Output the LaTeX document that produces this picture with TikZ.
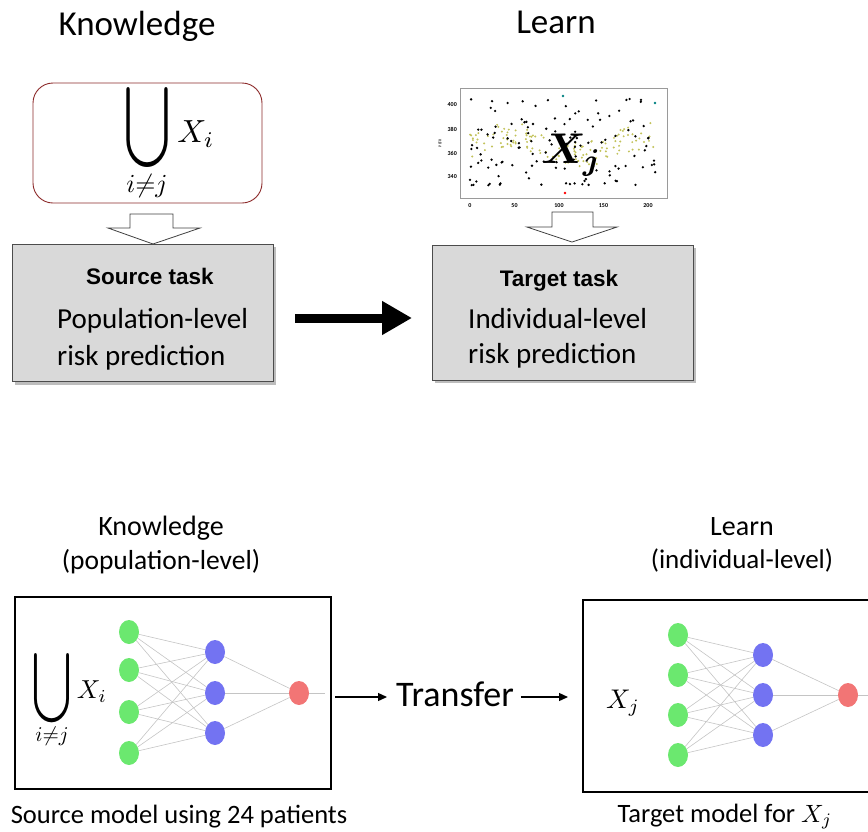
\documentclass[tikz,border=0pt]{standalone}
\usepackage{bm}
\usepackage{graphicx}
\usepackage{fontspec}
\setmainfont{Carlito}
\newfontfamily\arialb{Liberation Sans}
\usetikzlibrary{arrows.meta,shapes.geometric,backgrounds}
\definecolor{boxgray}{HTML}{D9D9D9}
\definecolor{shadowgray}{HTML}{BDBDBD}
\definecolor{darkred}{HTML}{8C2A2A}
\definecolor{nngreen}{HTML}{6BE86F}
\definecolor{nnblue}{HTML}{7373F2}
\definecolor{nnred}{HTML}{F27575}
\definecolor{edgegray}{HTML}{C4C4C4}
\definecolor{dotyel}{HTML}{C2C25A}
\definecolor{axgray}{HTML}{9A9A9A}
\begin{document}
\begin{tikzpicture}[x=1pt,y=-1pt,
  lbl/.style={inner sep=0pt,anchor=center},
  bl/.style={inner sep=0pt,anchor=base},
  bw/.style={inner sep=0pt,anchor=base west},
  taskbox/.style={draw=black!70,fill=boxgray,line width=0.8pt},
  hollow/.style={draw=black!75,fill=white,line width=0.8pt,line join=miter},
  gn/.style={ellipse,fill=nngreen,minimum width=20pt,minimum height=24pt,inner sep=0pt},
  bn/.style={ellipse,fill=nnblue,minimum width=20pt,minimum height=24pt,inner sep=0pt},
  rn/.style={ellipse,fill=nnred,minimum width=20pt,minimum height=24pt,inner sep=0pt},
  nnedge/.style={draw=edgegray,line width=0.6pt},
  tick/.style={inner sep=0pt,font=\fontsize{6}{6}\selectfont\bfseries}
]
\useasboundingbox (0,0) rectangle (868,831);
\clip (0,0) rectangle (868,831);

% ---------- top titles
\node[bl] (k1) at (137,35) {\fontsize{35}{40}\selectfont Knowledge};
\node[bl] (l1) at (556,33) {\fontsize{35}{40}\selectfont Learn};

% ---------- union box
\draw[draw=darkred,line width=0.9pt,rounded corners=20pt] (33,83) rectangle (262,203);
\node[lbl] (u1) at (148,127) {\resizebox{46pt}{60pt}{$\displaystyle\bigcup$}};
\node[lbl] (xi1) at (196,134) {\scalebox{3.2}{$X_i$}};
\node[lbl] (ij1) at (147,186) {\scalebox{2.6}{$i{\neq}j$}};

% hollow arrow 1
\draw[hollow] (130,214) -- (173,214) -- (173,228) -- (200,228) -- (153,244) -- (108,228) -- (130,228) -- cycle;

% source task box
\fill[shadowgray] (15,247) rectangle (276,385);
\draw[taskbox] (12,244) rectangle (273,381);
\node[bl] (st) at (150,284) {\arialb\bfseries\fontsize{22.5}{22.5}\selectfont Source task};
\node[bw] (pl) at (57,328) {\fontsize{29}{29}\selectfont Population-level};
\node[bw] (rp1) at (57,365) {\fontsize{29}{29}\selectfont risk prediction};

% big arrow
\coordinate (ba) at (295,318);
\coordinate (bb) at (412,318);
\draw[line width=9pt,-{Triangle[length=30pt,width=32pt]}] (ba) -- (bb);

% ---------- scatter plot
\draw[axgray,line width=0.6pt] (460,88) rectangle (667,198);
\pgfmathsetseed{11}
\foreach \k in {1,...,130} {
  \pgfmathsetmacro\dx{rnd*208}
  \pgfmathsetmacro\dy{367+8*sin(\dx*2.2)+(rnd-0.5)*22}
  \fill[dotyel] (470+\dx*0.89, 105+400*1.2-\dy*1.2) circle (1.1);
}
\foreach \k in {1,...,130} {
  \pgfmathsetmacro\dx{rnd*210}
  \pgfmathsetmacro\dy{333+rnd*72}
  \fill[black] (470+\dx*0.89, 105+400*1.2-\dy*1.2) circle (1.3);
}
\fill[teal] (563,96) circle (1.4);
\fill[teal] (655,103) circle (1.4);
\fill[red] (565,193) circle (1.4);
\foreach \v/\n in {400/a,380/b,360/c,340/d} {
  \node[tick,anchor=east] (yt\n) at (457,{105+(400-\v)*1.2}) {\v};
}
\foreach \v/\n in {0/a,50/b,100/c,150/d,200/e} {
  \node[tick] (xt\n) at ({470+\v*0.89},206) {\v};
}
\node[tick,rotate=90,font=\fontsize{4}{4}\selectfont] (pefr) at (440,143) {PEFR};
\node[lbl] (xj1) at (572,155) {\scalebox{4.3}{$\bm{X_j}$}};

% hollow arrow 2
\draw[hollow] (552,212) -- (593,212) -- (593,227) -- (617,227) -- (572,242) -- (527,227) -- (552,227) -- cycle;

% target task box
\fill[shadowgray] (435,248) rectangle (696,383);
\draw[taskbox] (432,245) rectangle (693,380);
\node[bl] (tt) at (559,286) {\arialb\bfseries\fontsize{22.5}{22.5}\selectfont Target task};
\node[bw] (il) at (468,328) {\fontsize{29}{29}\selectfont Individual-level};
\node[bw] (rp2) at (468,363) {\fontsize{29}{29}\selectfont risk prediction};

% ---------- bottom titles
\node[bl] (k2) at (161,535) {\fontsize{28}{30}\selectfont Knowledge};
\node[bl] (pop) at (161,569) {\fontsize{27.5}{30}\selectfont (population-level)};
\node[bl] (l2) at (742,535) {\fontsize{28}{30}\selectfont Learn};
\node[bl] (ind) at (742,568) {\fontsize{27}{30}\selectfont (individual-level)};

% left model box
\draw[black,line width=1.6pt] (15,597) rectangle (331,789);
\node[lbl] (u2) at (52,688) {\resizebox{39pt}{52pt}{$\displaystyle\bigcup$}};
\node[lbl] (xi2) at (92,692) {\scalebox{2.6}{$X_i$}};
\node[lbl] (ij2) at (52,736) {\scalebox{2.1}{$i{\neq}j$}};

\foreach \i/\y in {1/632,2/670,3/712,4/753} \node[gn] (ga\i) at (129,\y) {};
\foreach \i/\y in {1/652,2/693,3/733} \node[bn] (ba\i) at (215,\y) {};
\node[rn] (ra) at (299,693) {};
\coordinate (oa) at (325,693);

% right model box
\draw[black,line width=1.6pt] (583,600) rectangle (880,792);
\node[lbl] (xj2) at (623,703) {\scalebox{2.7}{$X_j$}};
\foreach \i/\y in {1/635,2/675,3/715,4/755} \node[gn] (gb\i) at (678,\y) {};
\foreach \i/\y in {1/655,2/695,3/735} \node[bn] (bb\i) at (763,\y) {};
\node[rn] (rb) at (848,695) {};
\coordinate (ob) at (875,695);

\begin{scope}[on background layer]
\foreach \i in {1,...,4} \foreach \j in {1,...,3} {
  \draw[nnedge] (ga\i) -- (ba\j);
  \draw[nnedge] (gb\i) -- (bb\j);
}
\foreach \j in {1,...,3} {
  \draw[nnedge] (ba\j) -- (ra);
  \draw[nnedge] (bb\j) -- (rb);
}
\draw[nnedge] (ra) -- (oa);
\draw[nnedge] (rb) -- (ob);
\end{scope}

% transfer
\node[lbl] (tr) at (455,694) {\fontsize{36}{36}\selectfont Transfer};
\coordinate (t1) at (335,697);
\draw[line width=1.3pt,shorten >=9pt,-{Triangle[length=9pt,width=8pt]}] (t1) -- (t1 -| tr.west);
\coordinate (t2) at (568,697);
\draw[line width=1.3pt,shorten <=7pt,-{Triangle[length=9pt,width=8pt]}] (t2 -| tr.east) -- (t2);

% captions
\node[bl] (cap1) at (179,823) {\fontsize{26.5}{28}\selectfont Source model using 24 patients};
\node[bl] (cap2) at (725,822) {\fontsize{26.5}{28}\selectfont Target model for {\fontsize{10}{10}\selectfont\scalebox{2.5}{$X_j$}}};
\end{tikzpicture}
\end{document}
